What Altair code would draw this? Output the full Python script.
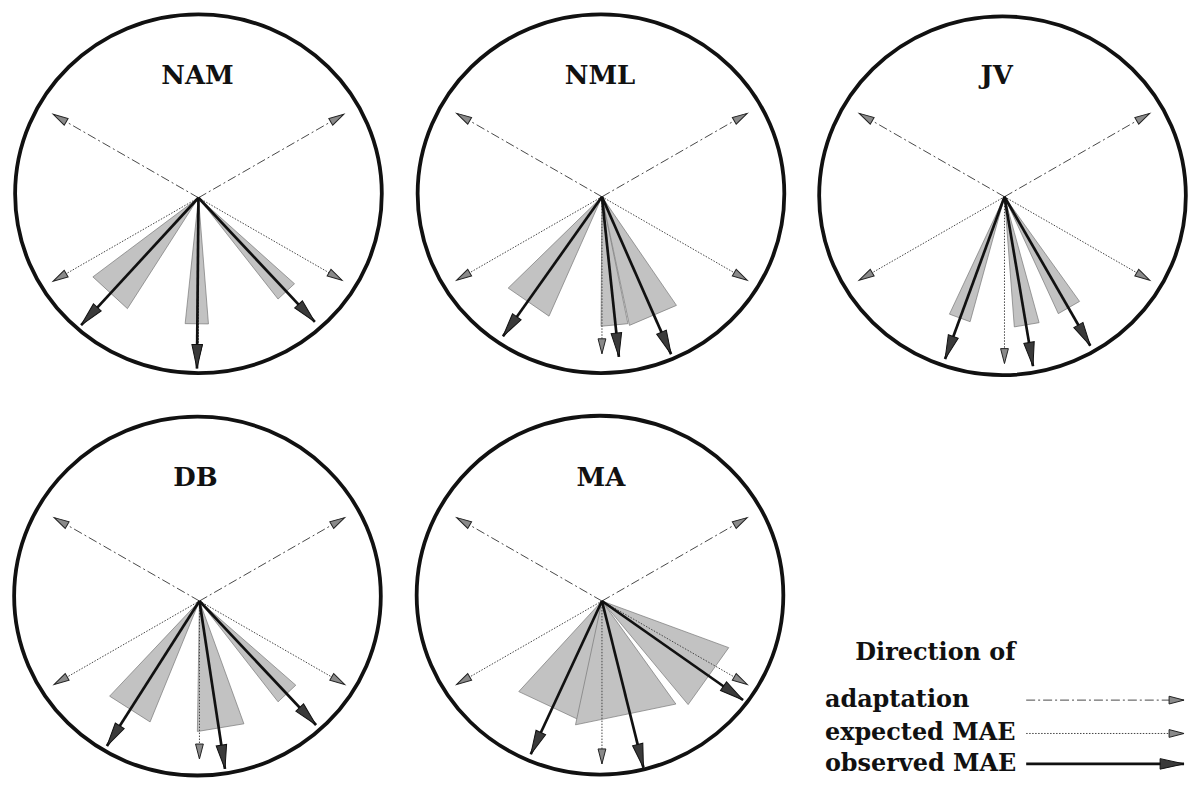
import math
import altair as alt
import pandas as pd

# ---------------- data ----------------
panels = ["NAM", "NML", "JV", "DB", "MA"]

# directions in degrees, counter-clockwise from "rightward"
adapt_angle = [150.0, 30.0]
adapt_len = [170, 170]
exp_angle = [210.0, 270.0, 330.0]
exp_len = [
    [170, 165, 168],
    [170, 160, 170],
    [170, 170, 170],
    [170, 161, 170],
    [170, 166, 170],
]
obs_angle = [
    [227.5, 269.5, 313.0],
    [234.8, 276.0, 293.6],
    [250.0, 279.5, 299.8],
    [237.6, 278.6, 313.1],
    [245.2, 283.9, 324.8],
]
obs_len = [
    [176, 174, 173],
    [174, 164, 175],
    [176, 175, 175],
    [175, 173, 173],
    [172, 175, 175],
]
# spread of observed MAE (shaded wedges): from / to direction and extent
wedge_lo = [
    [217.0, 264.0, 308.0],
    [224.4, 269.6, 282.0],
    [245.0, 274.3, 294.6],
    [226.8, 269.1, 307.8],
    [227.6, 258.0, 309.6],
]
wedge_hi = [
    [237.5, 274.5, 318.0],
    [246.2, 281.5, 304.3],
    [254.7, 285.3, 305.5],
    [247.9, 289.8, 318.7],
    [261.9, 305.5, 339.7],
]
wedge_r = [
    [134, 129, 131],
    [133, 132, 134],
    [132, 133, 131],
    [133, 133, 130],
    [125, 129, 137],
]
legend_title = "Direction of"
legend_items = ["adaptation", "expected MAE", "observed MAE"]

# ---------------- layout (page pixels) ----------------
W, H = 1188, 774
origin = {"NAM": (196, 196), "NML": (605, 195), "JV": (1013, 195),
          "DB": (197, 607), "MA": (605, 607)}
ring = {"NAM": (196, 192), "NML": (604, 192), "JV": (1011, 194),
        "DB": (195, 602), "MA": (603, 601)}
label_xy = {"NAM": (195, 72), "NML": (603, 72), "JV": (1005, 72),
            "DB": (193, 482), "MA": (604, 482)}
legend_title_xy = (943, 660)
legend_text_x = 831
legend_y = [708, 742, 773]
legend_x0, legend_x1 = 1035, 1195


def polar(o, ang, r):
    a = math.radians(ang)
    return o[0] + r * math.cos(a), o[1] - r * math.sin(a)


def rot(ang):
    return (90.0 - ang) % 360.0


seg_rows = []
for i, p in enumerate(panels):
    o = origin[p]
    for a, l in zip(adapt_angle, adapt_len):
        x2, y2 = polar(o, a, l)
        seg_rows.append(dict(kind="adaptation", x=o[0], y=o[1], x2=x2, y2=y2, rot=rot(a)))
    for a, l in zip(exp_angle, exp_len[i]):
        x2, y2 = polar(o, a, l)
        seg_rows.append(dict(kind="expected", x=o[0], y=o[1], x2=x2, y2=y2, rot=rot(a)))
    for a, l in zip(obs_angle[i], obs_len[i]):
        x2, y2 = polar(o, a, l)
        seg_rows.append(dict(kind="observed", x=o[0], y=o[1], x2=x2, y2=y2, rot=rot(a)))
for k, yy in zip(["adaptation", "expected", "observed"], legend_y):
    seg_rows.append(dict(kind=k, x=legend_x0, y=yy, x2=legend_x1, y2=yy, rot=90.0))
seg = pd.DataFrame(seg_rows)

# wedges as filled triangles (area between lower / upper edge at each vertex x)
wrows = []
for i, p in enumerate(panels):
    o = origin[p]
    for j in range(3):
        A = polar(o, wedge_lo[i][j], wedge_r[i][j])
        B = polar(o, wedge_hi[i][j], wedge_r[i][j])
        pts = sorted([o, A, B], key=lambda t: t[0])
        (xa, ya), (xm, ym), (xb, yb) = pts
        t = 0.0 if xb == xa else (xm - xa) / (xb - xa)
        yi = ya + t * (yb - ya)
        wid = f"{p}{j}"
        wrows.append(dict(wid=wid, x=xa, lo=ya, hi=ya))
        wrows.append(dict(wid=wid, x=xm, lo=min(ym, yi), hi=max(ym, yi)))
        wrows.append(dict(wid=wid, x=xb, lo=yb, hi=yb))
wedges = pd.DataFrame(wrows)

rings = pd.DataFrame([dict(panel=p, x=ring[p][0], y=ring[p][1]) for p in panels])
labels = pd.DataFrame([dict(t=p, x=label_xy[p][0], y=label_xy[p][1]) for p in panels])
leg_text = pd.DataFrame([dict(t=t, x=legend_text_x, y=yy) for t, yy in zip(legend_items, legend_y)])
leg_title = pd.DataFrame([dict(t=legend_title, x=legend_title_xy[0], y=legend_title_xy[1])])

XS = alt.Scale(domain=[8, 8 + W], nice=False, zero=False)
YS = alt.Scale(domain=[8, 8 + H], nice=False, zero=False, reverse=True)


def X(f):
    return alt.X(f, type="quantitative", scale=XS, axis=None)


def Y(f):
    return alt.Y(f, type="quantitative", scale=YS, axis=None)


ellipse = "M-1.022,0 A1.022,1 0 1,0 1.022,0 A1.022,1 0 1,0 -1.022,0 Z"
circles = alt.Chart(rings).mark_point(
    shape=ellipse, size=360 * 360, filled=False, stroke="#111", strokeWidth=3.8, opacity=1
).encode(x=X("x"), y=Y("y"))

wedge_layer = alt.Chart(wedges).mark_area(
    orient="vertical", fill="#c2c2c2", stroke="#777", strokeWidth=0.7, opacity=1
).encode(x=X("x"), y=Y("lo"), y2="hi", detail="wid:N")

base = alt.Chart(seg)
adapt_lines = base.transform_filter(alt.datum.kind == "adaptation").mark_rule(
    color="#333", strokeWidth=0.9, strokeDash=[9, 3, 2, 3]
).encode(x=X("x"), y=Y("y"), x2="x2", y2="y2")
exp_lines = base.transform_filter(alt.datum.kind == "expected").mark_rule(
    color="#444", strokeWidth=1.0, strokeDash=[1.5, 1.5]
).encode(x=X("x"), y=Y("y"), x2="x2", y2="y2")
obs_lines = base.transform_filter(alt.datum.kind == "observed").mark_rule(
    color="#111", strokeWidth=2.7
).encode(x=X("x"), y=Y("y"), x2="x2", y2="y2")

thin_head = "M0,0 L0.26,1 L-0.26,1 Z"
thick_head = "M0,0 L0.22,1 L-0.22,1 Z"
thin_heads = base.transform_filter(alt.datum.kind != "observed").mark_point(
    shape=thin_head, size=30 * 30, filled=True, fill="#8a8a8a", stroke="#222",
    strokeWidth=1.0, opacity=1
).encode(x=X("x2"), y=Y("y2"), angle=alt.Angle("rot:Q", scale=None))
thick_heads = base.transform_filter(alt.datum.kind == "observed").mark_point(
    shape=thick_head, size=48 * 48, filled=True, fill="#3a3a3a", stroke="#111",
    strokeWidth=1.0, opacity=1
).encode(x=X("x2"), y=Y("y2"), angle=alt.Angle("rot:Q", scale=None))

font = "DejaVu Serif"
label_layer = alt.Chart(labels).mark_text(
    font=font, fontWeight="bold", fontSize=26, align="center", baseline="middle", color="#111"
).encode(x=X("x"), y=Y("y"), text="t:N")
legend_title_layer = alt.Chart(leg_title).mark_text(
    font=font, fontWeight="bold", fontSize=24, align="center", baseline="middle", color="#111"
).encode(x=X("x"), y=Y("y"), text="t:N")
legend_text_layer = alt.Chart(leg_text).mark_text(
    font=font, fontWeight="bold", fontSize=24, align="left", baseline="middle", color="#111"
).encode(x=X("x"), y=Y("y"), text="t:N")

chart = alt.layer(
    wedge_layer, adapt_lines, exp_lines, obs_lines, thin_heads, thick_heads,
    circles, label_layer, legend_title_layer, legend_text_layer
).properties(
    width=W, height=H, padding=0,
    autosize=alt.AutoSizeParams(type="fit", contains="padding"),
    background="white",
).configure_view(stroke=None)

chart.save("out.html", embed_options={"renderer": "svg", "actions": False})
